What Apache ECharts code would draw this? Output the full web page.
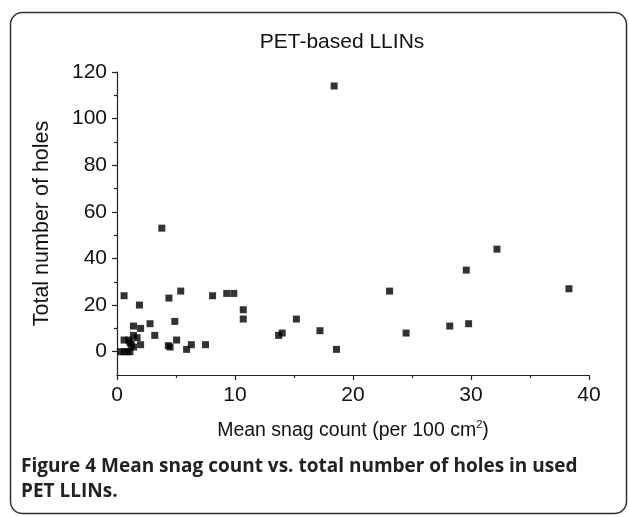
<!DOCTYPE html>
<html><head><meta charset="utf-8">
<script src="https://cdn.jsdelivr.net/npm/echarts@6/dist/echarts.min.js"></script>
<style>html,body{margin:0;padding:0;background:#fff}#c{width:629px;height:517px}</style>
</head><body><div id="c"></div>
<script>
var snagCount = [0.3,0.6,0.9,1.1,0.6,1.0,1.4,1.7,1.2,1.4,2.0,1.4,2.0,2.8,3.2,0.6,1.9,1.1,
  3.8,4.4,5.4,4.9,5.05,4.5,5.9,6.3,7.5,8.1,9.3,9.9,10.7,10.7,
  13.7,14.0,15.2,17.2,18.4,18.6,23.1,24.5,28.2,29.6,29.8,32.2,38.3,4.35];
var holes = [0,0,0,0,5,5,7,6,3,2,3,11,10,12,7,24,20,4,
  53,23,26,13,5,2,1,3,3,24,25,25,18,14,
  7,8,14,9,114,1,26,8,11,35,12,44,27,2.6];
var xTicks = [0,10,20,30,40];
var yLabelTicks = [0,20,40,60,80,100,120];
var yMinorTicks = [10,30,50,70,90,110];
var titleText = 'PET-based LLINs';
var captionLines = ['Figure 4 Mean snag count vs. total number of holes in used','PET LLINs.'];

var pts = snagCount.map(function(x,i){return [x,holes[i]];});
var font = 'Liberation Sans, Arial, sans-serif';
var ax = {color:'#222',width:1.2};
var chart = echarts.init(document.getElementById('c'));
chart.setOption({
  animation:false,
  title:{text:titleText,left:337,top:27,textAlign:'center',textStyle:{fontFamily:font,fontSize:21,fontWeight:'normal',color:'#111'}},
  grid:{left:117,right:40,top:72,bottom:142},
  xAxis:{type:'value',min:xTicks[0],max:xTicks[xTicks.length-1],interval:10,
    splitLine:{show:false},
    axisLine:{onZero:false,lineStyle:ax},
    axisTick:{length:5,lineStyle:ax},
    minorTick:{show:true,splitNumber:2,length:3,lineStyle:ax},
    axisLabel:{margin:10,fontFamily:font,fontSize:21,color:'#111'},
    name:'{a|Mean snag count (per 100 cm}{s|2}{a|)}',nameLocation:'middle',nameGap:44,
    nameTextStyle:{rich:{a:{fontFamily:font,fontSize:19.5,color:'#111'},s:{fontFamily:font,fontSize:11,color:'#111',verticalAlign:'top',padding:[0,0,12,0]}}}
  },
  yAxis:[{type:'value',min:-10,max:120,
    splitLine:{show:false},
    axisLine:{show:true,onZero:false,lineStyle:ax},
    axisTick:{show:true,length:5,customValues:yLabelTicks,lineStyle:ax},
    axisLabel:{customValues:yLabelTicks,margin:10,fontFamily:font,fontSize:21,color:'#111'},
    name:'Total number of holes',nameLocation:'middle',nameGap:64,
    nameTextStyle:{fontFamily:font,fontSize:21.5,color:'#111'}
  },{type:'value',min:-10,max:120,position:'left',
    splitLine:{show:false},
    axisLine:{show:false,onZero:false},
    axisTick:{show:true,length:3,customValues:yMinorTicks,lineStyle:ax},
    axisLabel:{show:false}
  }],
  series:[{type:'scatter',data:pts,symbol:'rect',symbolSize:7,itemStyle:{color:'#000'}}],
  graphic:[
    {type:'rect',shape:{x:10.5,y:12.5,width:616,height:501,r:12},style:{fill:'none',stroke:'#333',lineWidth:1.5},silent:true},
    {type:'text',left:21,top:454,style:{text:captionLines.join('\n'),fontFamily:'Open Sans, sans-serif',fontWeight:'bold',fontSize:19,lineHeight:25,fill:'#222'}}
  ]
});
</script></body></html>
